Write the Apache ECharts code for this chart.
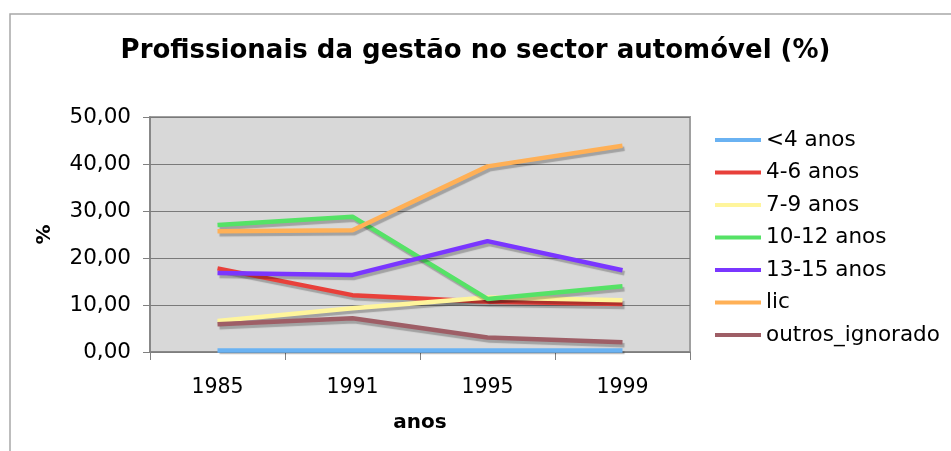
<!DOCTYPE html>
<html style="height: 100%">
<head>
	<meta charset="utf-8">
</head>
<body style="height: 100%; margin: 0; background: #fff">
<div id="container" style="width: 951px; height: 451px"></div>
<script type="text/javascript" src="https://cdn.jsdelivr.net/npm/echarts@6/dist/echarts.min.js"></script>
<script type="text/javascript">
    var years = ['1985', '1991', '1995', '1999'];
    var yTicks = [0, 10, 20, 30, 40, 50];

    var menos4 = [0.3, 0.3, 0.3, 0.3];
    var anos4a6 = [17.8, 12.1, 10.7, 10.2];
    var anos7a9 = [6.6, 9.3, 11.6, 11.0];
    var anos10a12 = [27.0, 28.8, 11.3, 14.0];
    var anos13a15 = [16.8, 16.4, 23.6, 17.4];
    var lic = [25.7, 25.9, 39.5, 43.9];
    var outros = [5.9, 7.2, 3.1, 2.1];

    var seriesNames = ['<4 anos', '4-6 anos', '7-9 anos', '10-12 anos', '13-15 anos', 'lic', 'outros_ignorado'];
    var seriesData = [menos4, anos4a6, anos7a9, anos10a12, anos13a15, lic, outros];
    var colors = ['#6ab2f2', '#e8403a', '#fff59c', '#55e266', '#7a36ff', '#ffb056', '#9e5e66'];

    var font = 'DejaVu Sans';

    var dom = document.getElementById("container");
    var myChart = echarts.init(dom);

    var series = [];
    for (var i = 0; i < seriesNames.length; i++) {
        series.push({
            name: seriesNames[i],
            type: 'line',
            data: seriesData[i],
            symbol: 'none',
            z: 10 + i,
            lineStyle: {
                width: 4.5,
                color: colors[i],
                shadowColor: 'rgba(0,0,0,0.25)',
                shadowOffsetX: 2,
                shadowOffsetY: 3,
                shadowBlur: 1
            },
            itemStyle: {color: colors[i]}
        });
    }

    var option = {
        animation: false,
        color: colors,
        textStyle: {fontFamily: font},
        graphic: [{
            type: 'rect',
            shape: {x: 10, y: 14, width: 1000, height: 500},
            style: {fill: 'none', stroke: '#a8a8a8', lineWidth: 1.5},
            silent: true
        }],
        title: {
            text: 'Profissionais da gestão no sector automóvel (%)',
            left: 'center',
            top: 33,
            textStyle: {fontFamily: font, fontSize: 26, fontWeight: 'bold', color: '#000'}
        },
        legend: {
            orient: 'vertical',
            left: 715,
            top: 129,
            padding: 0,
            itemWidth: 46,
            itemHeight: 4,
            itemGap: 10.5,
            data: seriesNames,
            textStyle: {fontFamily: font, fontSize: 21.5, color: '#000'},
            icon: 'rect'
        },
        grid: {
            left: 150,
            right: 261,
            top: 117,
            bottom: 99,
            show: true,
            backgroundColor: '#d8d8d8',
            borderColor: '#a0a0a0',
            borderWidth: 2
        },
        xAxis: {
            type: 'category',
            data: years,
            boundaryGap: true,
            name: 'anos',
            nameLocation: 'middle',
            nameGap: 61,
            nameTextStyle: {fontFamily: font, fontSize: 20, fontWeight: 'bold', color: '#000'},
            axisLine: {lineStyle: {color: '#808080', width: 1.5}},
            axisTick: {show: true, length: 8, lineStyle: {color: '#808080'}},
            axisLabel: {margin: 25, fontFamily: font, fontSize: 20.5, color: '#000'},
            splitLine: {show: false}
        },
        yAxis: {
            type: 'value',
            min: yTicks[0],
            max: yTicks[yTicks.length - 1],
            interval: 10,
            name: '%',
            nameLocation: 'middle',
            nameGap: 95,
            nameTextStyle: {fontFamily: font, fontSize: 20, fontWeight: 'bold', color: '#000'},
            axisLine: {show: true, lineStyle: {color: '#808080', width: 1.5}},
            axisTick: {show: true, length: 7, lineStyle: {color: '#808080'}},
            axisLabel: {
                margin: 19,
                fontFamily: font,
                fontSize: 21.5,
                color: '#000',
                formatter: function (v) { return v.toFixed(2).replace('.', ','); }
            },
            splitLine: {show: true, lineStyle: {color: '#7a7a7a', width: 1.2}}
        },
        series: series
    };

    myChart.setOption(option);
</script>
</body>
</html>
